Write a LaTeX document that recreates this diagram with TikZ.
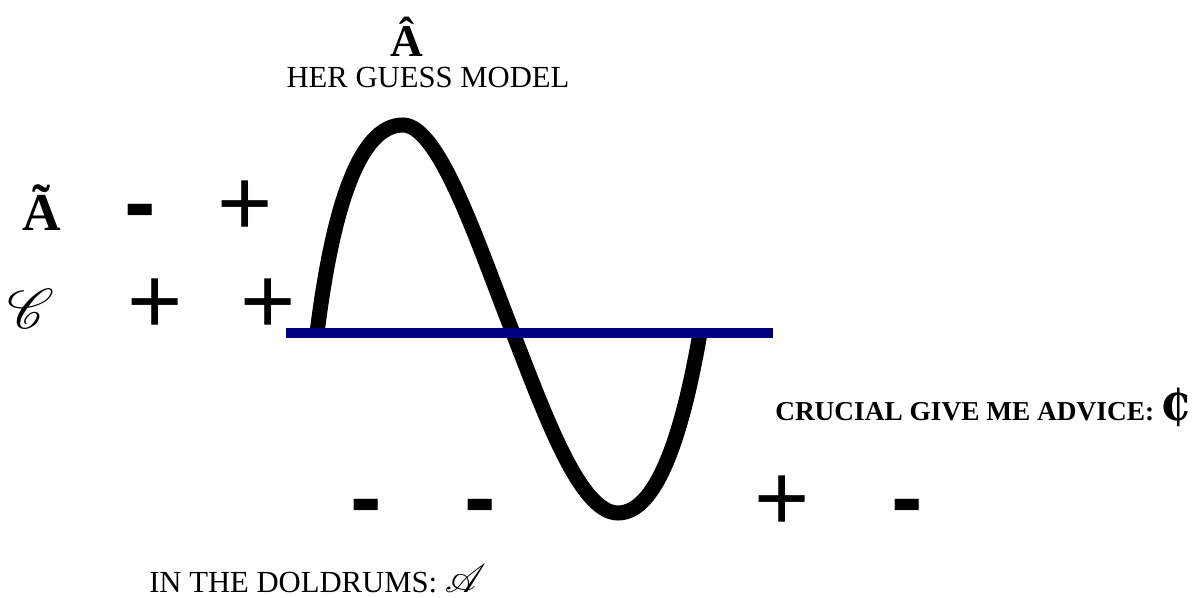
\documentclass[tikz,border=0pt]{standalone}
\usepackage{fontspec}
\setmainfont{Liberation Serif}
\newfontfamily\signfont{Liberation Sans}
\newfontfamily\cedifont{DejaVu Serif}
\usepackage{mathrsfs}
\definecolor{axisblue}{RGB}{0,0,128}

\begin{document}
\begin{tikzpicture}[x=0.75pt, y=-0.75pt,
    plussign/.style={anchor=base, inner sep=0pt, font=\signfont\fontsize{71pt}{71pt}\selectfont},
    minussign/.style={anchor=base, inner sep=0pt, font=\signfont\bfseries\fontsize{71pt}{71pt}\selectfont},
    caption/.style={anchor=base, inner sep=0pt, font=\fontsize{23pt}{23pt}\selectfont}]
    \useasboundingbox (0,0) rectangle (1192,598);

    % Curve
    \draw[line width=11.25pt] (317,333) .. controls (333,205) and (360,125) .. (403,125)
        .. controls (440,125) and (480,250) .. (513,333)
        .. controls (545,415) and (580,513) .. (618,513)
        .. controls (660,513) and (685,420) .. (700,333);

    % Axis
    \coordinate (axl) at (286,333);
    \coordinate (axr) at (773,333);
    \draw[axisblue, line width=7.5pt] (axl) -- (axr);

    % Top
    \node[anchor=base, inner sep=0pt, font=\bfseries\fontsize{34pt}{34pt}\selectfont] (ahat) at (407,57) {Â};
    \node[caption] (model) at (428,88) {HER GUESS MODEL};

    % Left rows
    \node[anchor=base, inner sep=0pt, font=\bfseries\fontsize{40pt}{40pt}\selectfont] (atilde) at (42,231) {Ã};
    \node[minussign] (m1) at (140,235) {-};
    \node[plussign] (p1) at (245,236) {+};
    \node[anchor=base, inner sep=0pt] (cscript) at (31,329) {\scalebox{4.2}{$\mathscr{C}$}};
    \node[plussign] (p2) at (155,334) {+};
    \node[plussign] (p3) at (268,334) {+};

    % Bottom row
    \node[minussign] (m2) at (366,529) {-};
    \node[minussign] (m3) at (480,529) {-};
    \node[plussign] (p4) at (782,530) {+};
    \node[minussign] (m4) at (907,529) {-};

    % Right and bottom labels
    \node[anchor=base west, inner sep=0pt, font=\bfseries\fontsize{20.5pt}{20.5pt}\selectfont] (advice) at (775,421)
        {CRUCIAL GIVE ME ADVICE: {\cedifont\fontsize{32pt}{32pt}\selectfont ₵}};
    \node[caption, anchor=base west] (doldrums) at (149,592)
        {IN THE DOLDRUMS: \scalebox{1.2}{$\mathscr{A}$}};
\end{tikzpicture}
\end{document}
